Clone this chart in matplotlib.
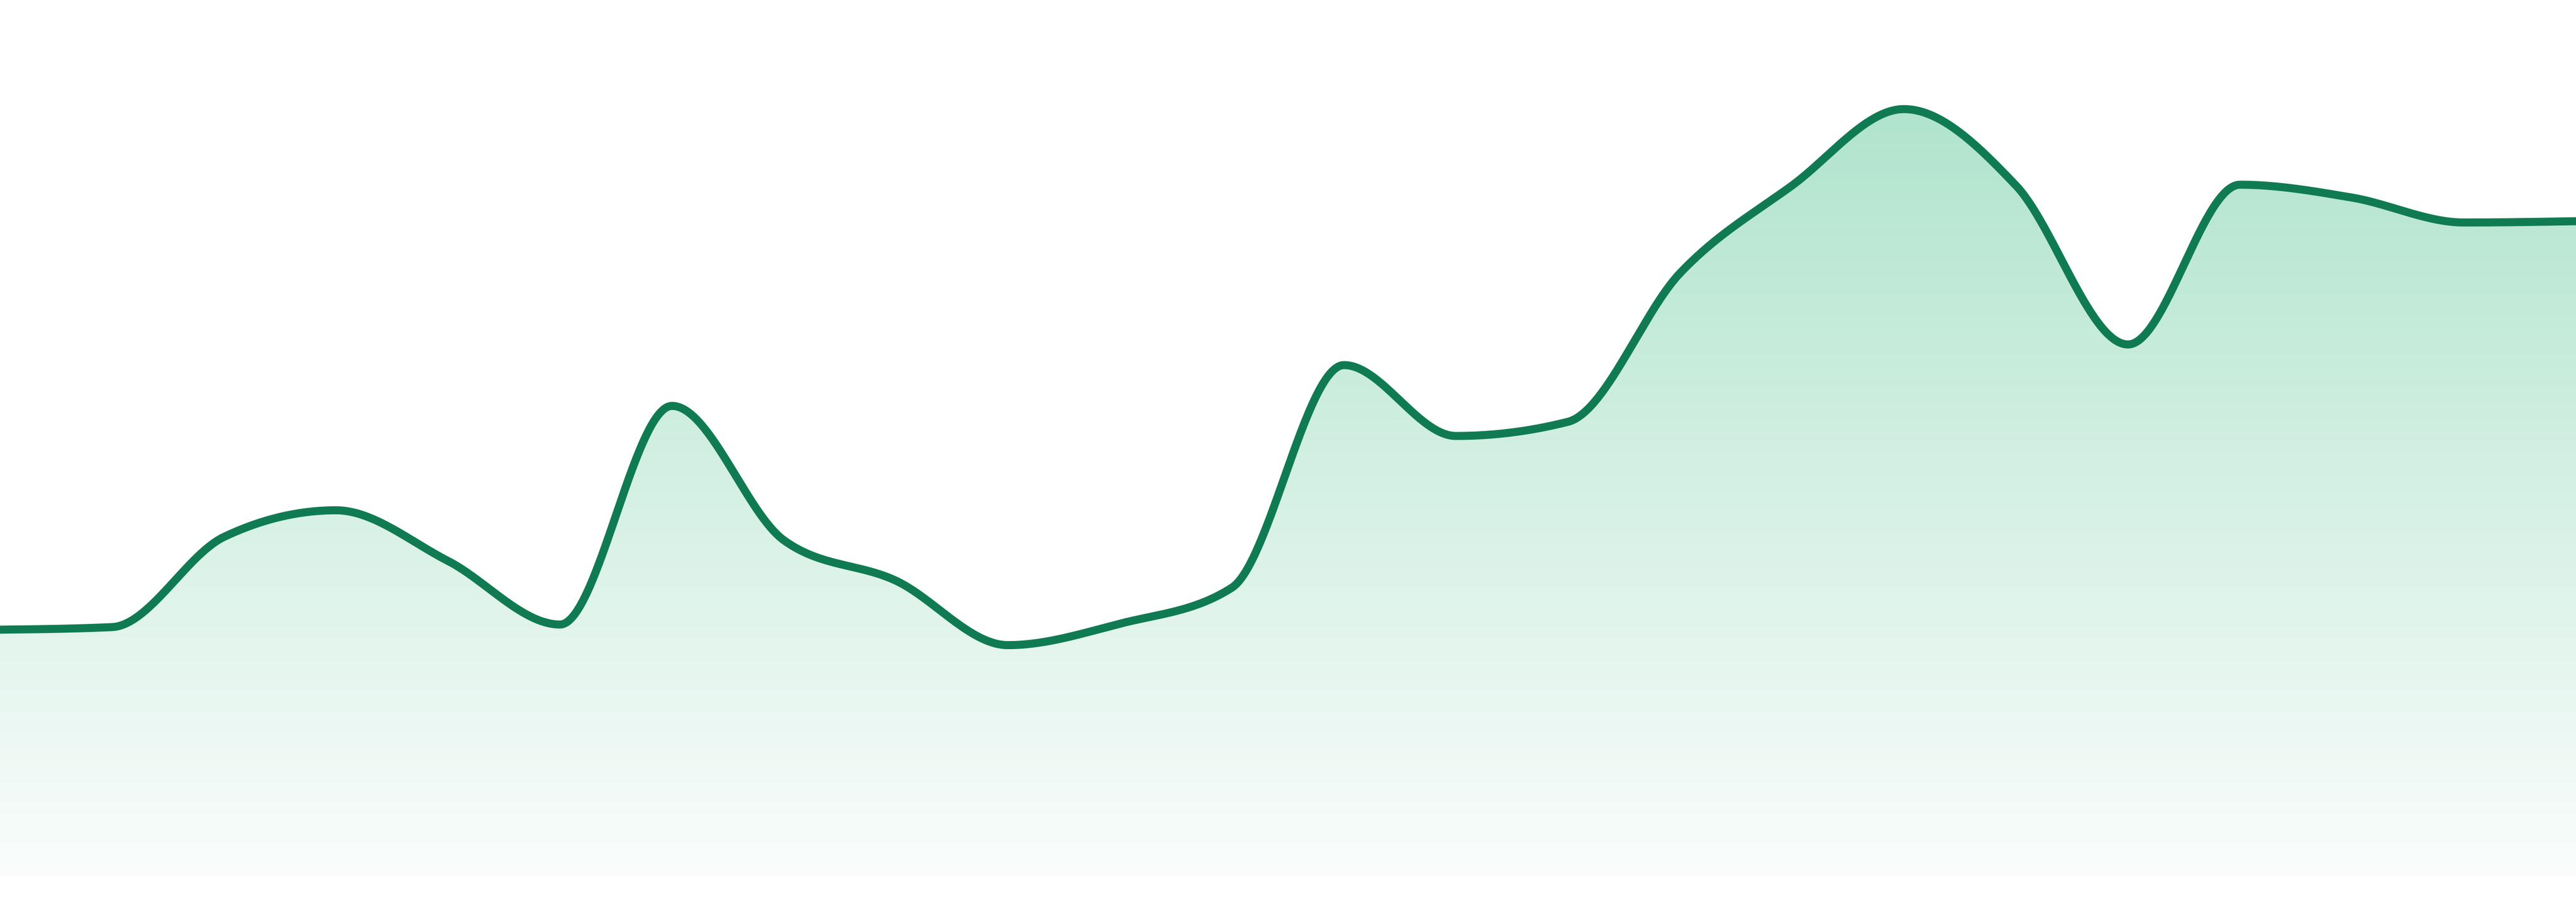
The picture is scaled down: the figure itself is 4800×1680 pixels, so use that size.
import numpy as np
import matplotlib.pyplot as plt
from matplotlib.patches import Polygon

# values (24 evenly spaced points)
values = [28.7, 29.0, 39.5, 42.6, 36.7, 29.3, 54.75, 39.1, 34.4, 26.9, 29.4, 33.6,
          59.5, 51.25, 52.9, 70.2, 80.4, 89.3, 80.4, 61.9, 80.5, 79.0, 76.1, 76.25]
steps = list(range(len(values)))

line_color = '#107b52'
fill_top = (176, 228, 205)
fill_bottom = (250, 253, 252)


def monotone_x(x, y, n=60):
    # same idea as d3.curveMonotoneX (Steffen)
    x = np.asarray(x, float)
    y = np.asarray(y, float)
    h = np.diff(x)
    s = np.diff(y) / h
    t = np.zeros_like(y)
    for i in range(1, len(y) - 1):
        p = (s[i - 1] * h[i] + s[i] * h[i - 1]) / (h[i - 1] + h[i])
        t[i] = (np.sign(s[i - 1]) + np.sign(s[i])) * min(abs(s[i - 1]), abs(s[i]), 0.5 * abs(p))
    t[0] = (3 * s[0] - t[1]) / 2
    t[-1] = (3 * s[-1] - t[-2]) / 2
    xs, ys = [], []
    for i in range(len(h)):
        u = np.linspace(0, 1, n, endpoint=(i == len(h) - 1))
        h00 = 2 * u**3 - 3 * u**2 + 1
        h10 = u**3 - 2 * u**2 + u
        h01 = -2 * u**3 + 3 * u**2
        h11 = u**3 - u**2
        xs.append(x[i] + u * h[i])
        ys.append(h00 * y[i] + h10 * h[i] * t[i] + h01 * y[i + 1] + h11 * h[i] * t[i + 1])
    return np.concatenate(xs), np.concatenate(ys)


cx, cy = monotone_x(steps, values)

fig = plt.figure(figsize=(48, 16.8), dpi=100)
ax = fig.add_axes([0, 0, 1, 1])
ax.axis('off')
ax.set_xlim(0, len(values) - 1)
ax.set_ylim(-3, 102)

# gradient fill under the curve
top = max(values)
grad = np.linspace(0, 1, 256)[:, None]
c0 = np.array(fill_top) / 255
c1 = np.array(fill_bottom) / 255
img = (c0 + (c1 - c0) * grad)[:, None, :].repeat(2, axis=1)
im = ax.imshow(img, extent=[0, len(values) - 1, 0, top], origin='upper',
               aspect='auto', interpolation='bilinear', zorder=1)
poly = Polygon(np.column_stack([np.r_[cx, cx[-1], cx[0]], np.r_[cy, 0, 0]]),
               closed=True, facecolor='none', edgecolor='none')
ax.add_patch(poly)
im.set_clip_path(poly)

ax.plot(cx, cy, color=line_color, lw=10.8, solid_joinstyle='round', zorder=2)

fig.savefig('out.png', dpi=100)
